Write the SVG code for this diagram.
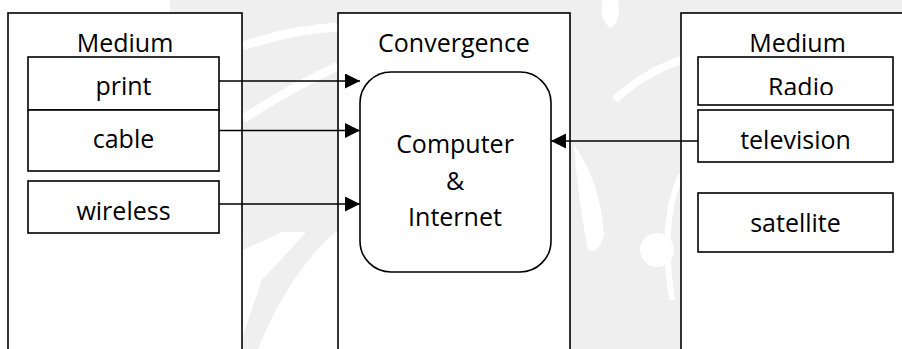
<svg xmlns="http://www.w3.org/2000/svg" width="902" height="349" viewBox="0 0 902 349">
  <style>
    .frame { fill: #ffffff; stroke: #000000; stroke-width: 1.6; }
    .item { fill: #ffffff; stroke: #000000; stroke-width: 1.6; }
    .label { font-family: "Open Sans", "Liberation Sans", sans-serif; font-size: 25px; fill: #000000; text-anchor: middle; }
    .link { fill: none; stroke: #000000; stroke-width: 1.5; marker-end: url(#head); }
    .mark { fill: #efefef; }
    .gap { fill: #ffffff; }
  </style>
  <defs>
    <marker id="head" markerUnits="userSpaceOnUse" markerWidth="16" markerHeight="16" viewBox="0 0 16 16" refX="15" refY="7.5" orient="auto">
      <path d="M0,0 L15,7.5 L0,15 Z" fill="#000000"/>
    </marker>
    <clipPath id="radioClip">
      <rect x="698" y="57" width="195" height="38"/>
    </clipPath>
  </defs>

  <!-- background emblem, faint grey -->
  <g id="emblem">
    <rect class="mark" x="170" y="0" width="732" height="13"/>
    <rect class="mark" x="242" y="0" width="96" height="232"/>
    <path class="mark" d="M338,195 Q300,240 262,280 L243,335 L243,349 L258,349 Q290,270 338,230 Z"/>
    <path fill="none" stroke="#ffffff" stroke-width="9" d="M243,46 Q290,30 338,27"/>
    <path fill="none" stroke="#ffffff" stroke-width="9" d="M243,119 Q290,88 338,66"/>
    <path class="mark" d="M243,232 Q290,210 338,180 L338,200 Q290,230 243,250 Z"/>
    <rect class="mark" x="570" y="0" width="111" height="349"/>
    <path class="gap" d="M603,0 Q598,18 610,28 Q622,22 618,0 Z"/>
    <path fill="none" stroke="#ffffff" stroke-width="8" d="M615,100 Q640,75 681,60"/>
    <path class="gap" d="M574,145 Q600,180 604,235 Q598,255 588,250 Q578,200 574,145 Z"/>
    <circle class="gap" cx="657" cy="250" r="17"/>
    <path fill="none" stroke="#ffffff" stroke-width="6" d="M681,175 Q660,220 672,300"/>
  </g>

  <!-- left column -->
  <g id="medium-left">
    <rect class="frame" x="8" y="13" width="234" height="345"/>
    <text class="label" x="125" y="51.5">Medium</text>
  </g>
  <g id="print">
    <rect class="item" x="28" y="57" width="191" height="53"/>
    <text class="label" x="123.5" y="95">print</text>
  </g>
  <g id="cable">
    <rect class="item" x="28" y="110" width="191" height="61"/>
    <text class="label" x="123.5" y="148">cable</text>
  </g>
  <g id="wireless">
    <rect class="item" x="28" y="181" width="191" height="52"/>
    <text class="label" x="123.5" y="220">wireless</text>
  </g>

  <!-- centre column -->
  <g id="convergence">
    <rect class="frame" x="338" y="13" width="232" height="345"/>
    <text class="label" x="454" y="51.5">Convergence</text>
  </g>
  <g id="computer-internet">
    <rect class="item" x="360" y="72" width="191" height="200" rx="31" ry="31"/>
    <text class="label" x="455" y="153">Computer</text>
    <text class="label" x="455" y="190">&amp;</text>
    <text class="label" x="455" y="225.5">Internet</text>
  </g>

  <!-- right column -->
  <g id="medium-right">
    <rect class="frame" x="681" y="13" width="240" height="345"/>
    <text class="label" x="797.5" y="51.5">Medium</text>
  </g>
  <g id="radio">
    <rect class="item" x="698" y="57" width="195" height="48"/>
    <text class="label" x="801" y="96" clip-path="url(#radioClip)">Radio</text>
  </g>
  <g id="television">
    <rect class="item" x="698" y="110" width="195" height="52"/>
    <text class="label" x="795.5" y="149">television</text>
  </g>
  <g id="satellite">
    <rect class="item" x="698" y="193" width="195" height="59"/>
    <text class="label" x="795.5" y="232">satellite</text>
  </g>

  <!-- connectors -->
  <g id="connectors">
    <path class="link" d="M219,81 L360,81"/>
    <path class="link" d="M219,130.5 L360,130.5"/>
    <path class="link" d="M219,204 L360,204"/>
    <path class="link" d="M698,141 L551,141"/>
  </g>
</svg>
